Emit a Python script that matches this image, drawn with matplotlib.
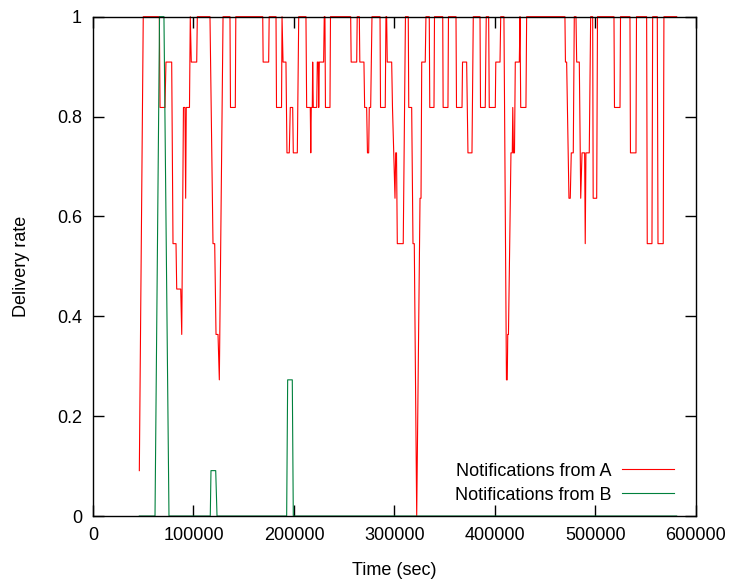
import numpy as np
import matplotlib
matplotlib.use("Agg")
import matplotlib.pyplot as plt
from matplotlib.ticker import FormatStrFormatter

# число получателей: доля доставки = доставлено / N_RECEIVERS
N_RECEIVERS = 11

# уведомления от A: моменты времени (с) и число получателей, до которых дошло
time_a = [
    46100, 50000, 66000, 66700, 71600, 72600, 78300, 79600, 82600, 83300,
    87300, 88300, 90000, 91500, 92200, 92800, 96000, 96800, 97800, 103200,
    103800, 116400, 119400, 121100, 122400, 124400, 125700, 129400, 136300, 136800,
    141600, 142100, 168900, 169300, 174800, 175300, 182100, 182600, 187600, 188100,
    189100, 192000, 193000, 195300, 196300, 198700, 199300, 203300, 204700, 211900,
    212600, 216200, 216700, 217200, 218200, 218600, 219200, 222600, 223200, 224200,
    224600, 225200, 229500, 230100, 230800, 231300, 235800, 236300, 256400, 256900,
    262400, 262900, 265000, 265500, 269600, 270300, 272300, 273100, 274300, 274900,
    276300, 277600, 285600, 286100, 290800, 291500, 292200, 292800, 297200, 298000,
    300500, 301200, 302000, 302800, 308700, 310900, 313700, 314200, 317100, 318400,
    319700, 322100, 325400, 326400, 327100, 330600, 331300, 334600, 335100, 339300,
    339800, 348000, 348400, 353200, 353700, 361200, 361700, 367200, 367700, 371800,
    373100, 377100, 378400, 385100, 385600, 390300, 391300, 393700, 394300, 400300,
    400800, 405000, 405700, 408900, 411400, 412200, 412700, 413400, 415900, 417200,
    417700, 418400, 419400, 420200, 424200, 424900, 425600, 430800, 431500, 469600,
    470100, 471300, 473600, 474900, 475900, 477900, 478900, 480600, 481300, 483900,
    485300, 486600, 489200, 489800, 490500, 493800, 495200, 497200, 497700, 501200,
    502000, 518400, 518900, 524400, 524900, 534300, 534800, 540300, 540800, 550900,
    551500, 556200, 556900, 561500, 562200, 567400, 568100, 580800,
]
delivered_a = [
    1, 11, 11, 9, 9, 10, 10, 6, 6, 5,
    5, 4, 9, 9, 7, 9, 9, 11, 10, 10,
    11, 11, 6, 6, 4, 4, 3, 11, 11, 9,
    9, 11, 11, 10, 10, 11, 11, 9, 9, 11,
    10, 10, 8, 8, 9, 9, 8, 8, 11, 11,
    9, 9, 8, 9, 9, 10, 9, 9, 10, 10,
    9, 10, 10, 11, 11, 9, 9, 11, 11, 10,
    10, 11, 11, 10, 10, 9, 9, 8, 8, 9,
    9, 11, 11, 9, 9, 11, 11, 10, 10, 9,
    7, 8, 8, 6, 6, 11, 11, 9, 9, 6,
    6, 0, 7, 7, 10, 10, 11, 11, 9, 9,
    11, 11, 9, 9, 11, 11, 9, 9, 10, 10,
    8, 8, 11, 11, 9, 9, 11, 11, 9, 9,
    10, 10, 11, 11, 3, 3, 4, 4, 8, 8,
    9, 8, 8, 10, 10, 11, 9, 9, 11, 11,
    10, 10, 7, 7, 8, 8, 11, 11, 10, 10,
    7, 8, 8, 6, 8, 8, 11, 11, 7, 7,
    11, 11, 9, 9, 11, 11, 8, 8, 11, 11,
    6, 6, 11, 11, 6, 6, 11, 11,
]

# уведомления от B
time_b = [46100, 61700, 66200, 70600, 75600, 116700, 117400, 122100, 123400,
          192700, 193700, 198300, 199300, 580800]
delivered_b = [0, 0, 11, 11, 0, 0, 1, 1, 0, 0, 3, 3, 0, 0]

plt.rcParams["font.family"] = ["Liberation Sans", "DejaVu Sans"]
plt.rcParams["font.size"] = 13

rate_a = np.array(delivered_a) / N_RECEIVERS
rate_b = np.array(delivered_b) / N_RECEIVERS

fig = plt.figure(figsize=(7.3, 5.85), dpi=100)
ax = fig.add_axes([0.1274, 0.1179, 0.826, 0.8536])

ax.plot(time_a, rate_a, color="#ff0000", lw=0.8, label="Notifications from A", clip_on=False)
ax.plot(time_b, rate_b, color="#00803c", lw=0.8, label="Notifications from B", clip_on=False)

ax.set_xlim(0, 600000)
ax.set_ylim(0, 1)
ax.set_xticks(np.arange(0, 600001, 100000))
ax.set_yticks(np.arange(0, 1.01, 0.2))
ax.ticklabel_format(axis="x", style="plain", useOffset=False)
ax.yaxis.set_major_formatter(FormatStrFormatter("%g"))
ax.tick_params(direction="in", length=8, width=1.0, top=True, right=True,
               labelsize=13, pad=8)
for sp in ax.spines.values():
    sp.set_linewidth(1.0)

ax.set_xlabel("Time (sec)", labelpad=13)
ax.set_ylabel("Delivery rate", labelpad=19)

ax.legend(loc="lower right", bbox_to_anchor=(0.973, 0.014), frameon=False,
          markerfirst=False, handlelength=2.9, handletextpad=0.55,
          labelspacing=0.38, borderpad=0.3, borderaxespad=0.0, fontsize=13)

fig.savefig("out.png", dpi=100)
